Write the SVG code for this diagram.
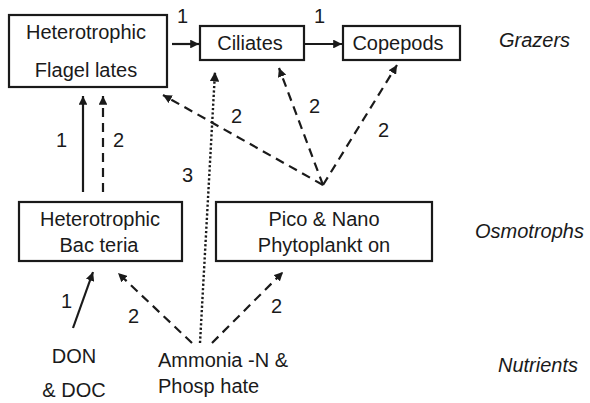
<svg xmlns="http://www.w3.org/2000/svg" width="590" height="403" viewBox="0 0 590 403">
<style>
.box{fill:#fff;stroke:#1a1a1a;stroke-width:2.2}
text{font-family:"Liberation Sans",Arial,sans-serif;font-size:20px;fill:#1a1a1a}
.c{text-anchor:middle}
.it{font-style:italic}
.n{font-size:20px}
.ln{stroke:#1a1a1a;stroke-width:2.2;fill:none}
.dash{stroke-dasharray:9 6}
.dot{stroke-dasharray:2.2 2.2;stroke-width:2.4}
</style>
<defs>
<marker id="ah" viewBox="0 0 10 10" refX="10" refY="5" markerWidth="4" markerHeight="4" markerUnits="strokeWidth" orient="auto">
<path d="M0,0 L10,5 L0,10 z" fill="#1a1a1a"/>
</marker>
</defs>
<rect width="590" height="403" fill="#fff"/>
<g id="connectors">
<line class="ln" x1="172" y1="44" x2="199" y2="44" marker-end="url(#ah)"/>
<line class="ln" x1="304" y1="44" x2="342" y2="44" marker-end="url(#ah)"/>
<line class="ln" x1="83" y1="192" x2="83" y2="96" marker-end="url(#ah)"/>
<line class="ln dash" x1="103" y1="192" x2="103" y2="96" marker-end="url(#ah)"/>
<line class="ln dot" x1="200" y1="343" x2="215" y2="72" marker-end="url(#ah)"/>
<line class="ln dash" x1="323" y1="185" x2="163" y2="95" marker-end="url(#ah)"/>
<line class="ln dash" x1="323" y1="185" x2="279" y2="68" marker-end="url(#ah)"/>
<line class="ln dash" x1="323" y1="185" x2="397" y2="65" marker-end="url(#ah)"/>
<line class="ln" x1="73" y1="328" x2="93" y2="272" marker-end="url(#ah)"/>
<line class="ln dash" x1="192" y1="343" x2="118" y2="273" marker-end="url(#ah)"/>
<line class="ln dash" x1="212" y1="343" x2="283" y2="272" marker-end="url(#ah)"/>
<text class="n" x="177" y="23">1</text>
<text class="n" x="314" y="23">1</text>
<text class="n" x="231" y="123">2</text>
<text class="n" x="56" y="147">1</text>
<text class="n" x="113" y="147">2</text>
<text class="n" x="182" y="182">3</text>
<text class="n" x="309" y="113">2</text>
<text class="n" x="378" y="137">2</text>
<text class="n" x="61" y="308">1</text>
<text class="n" x="128" y="323">2</text>
<text class="n" x="271" y="313">2</text>
</g>
<g id="hf">
<rect class="box" x="9" y="15" width="158" height="72"/>
<text class="c" x="86" y="39">Heterotrophic</text>
<text class="c" x="86" y="77">Flagel lates</text>
</g>
<g id="ciliates">
<rect class="box" x="200" y="26" width="104" height="34"/>
<text class="c" x="250" y="50">Ciliates</text>
</g>
<g id="copepods">
<rect class="box" x="343" y="26" width="117" height="34"/>
<text class="c" x="398" y="50">Copepods</text>
</g>
<g id="hb">
<rect class="box" x="19" y="202" width="163" height="59"/>
<text class="c" x="100" y="226">Heterotrophic</text>
<text class="c" x="99" y="252">Bac teria</text>
</g>
<g id="pico">
<rect class="box" x="216" y="202" width="216" height="59"/>
<text class="c" x="324" y="226">Pico &amp; Nano</text>
<text class="c" x="324" y="252">Phytoplankt on</text>
</g>
<g id="don">
<text class="c" x="74" y="363">DON</text>
<text class="c" x="74" y="397">&amp; DOC</text>
</g>
<g id="ammonia">
<text x="158" y="367">Ammonia -N &amp;</text>
<text x="158" y="393">Phosp hate</text>
</g>
<g id="levels">
<text class="it" x="499" y="47">Grazers</text>
<text class="it" x="475" y="238">Osmotrophs</text>
<text class="it" x="498" y="372">Nutrients</text>
</g>
</svg>
